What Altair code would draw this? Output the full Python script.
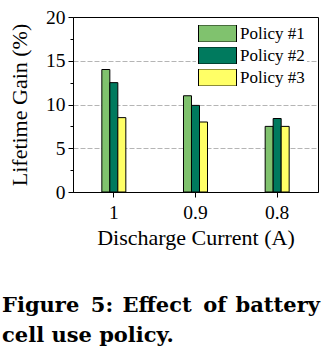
import altair as alt
import pandas as pd

currents = ["1", "0.9", "0.8"]
policies = ["Policy #1", "Policy #2", "Policy #3"]
policy1 = [14.0, 11.0, 7.5]
policy2 = [12.5, 9.9, 8.4]
policy3 = [8.5, 8.0, 7.5]
colors = ["#80C26E", "#007A5E", "#FFFF66"]
y_ticks = [0, 2.5, 5, 7.5, 10, 12.5, 15, 17.5, 20]

rows = []
for series, vals in zip(policies, [policy1, policy2, policy3]):
    for c, v in zip(currents, vals):
        rows.append({"current": c, "policy": series, "gain": v})
df = pd.DataFrame(rows)

serif = "Liberation Serif"

bars = alt.Chart(df).mark_bar(stroke="black", strokeWidth=1).encode(
    x=alt.X("current:N", sort=currents,
            scale=alt.Scale(paddingInner=0.706, paddingOuter=0.353),
            axis=alt.Axis(title="Discharge Current (A)", labelAngle=0, tickSize=5,
                          labelPadding=6, titlePadding=6, grid=False)),
    xOffset=alt.XOffset("policy:N", sort=policies),
    y=alt.Y("gain:Q", scale=alt.Scale(domain=[0, 20], nice=False),
            axis=alt.Axis(title="Lifetime Gain (%)", values=y_ticks,
                          labelExpr="datum.value % 5 === 0 ? datum.label : ''",
                          tickSize={"condition": {"test": "datum.value % 5 === 0", "value": 5}, "value": 3},
                          gridOpacity={"condition": {"test": "datum.value % 5 === 0 && datum.value > 0 && datum.value < 20", "value": 1}, "value": 0},
                          labelPadding=3, titlePadding=14)),
    color=alt.Color("policy:N", sort=policies,
                    scale=alt.Scale(domain=policies, range=colors),
                    legend=alt.Legend(title=None, orient="none", legendX=123, legendY=6,
                                      symbolType="M-1,-0.45H1V0.45H-1Z", symbolSize=1444,
                                      symbolStrokeColor="black", symbolStrokeWidth=1,
                                      symbolOpacity=1, labelOffset=3, clipHeight=17,
                                      labelFont=serif, labelFontSize=17, labelColor="black",
                                      fillColor="white", padding=2, rowPadding=4)),
)

chart = bars.properties(
    width=245, height=175,
    padding={"left": 73, "top": 17, "right": 13, "bottom": 160},
    autosize=alt.AutoSizeParams(type="none"),
    background="white",
    title=alt.TitleParams(
        text=["Figure\u2009 5:\u200a Effect\u2009 of\u200a battery", "cell use policy."],
        orient="bottom", anchor="start", frame="group", dx=-71, offset=46,
        font="DejaVu Serif", fontSize=21, fontWeight="bold", color="black",
        lineHeight=30),
).configure_view(stroke="black", strokeWidth=1).configure_axis(
    labelFont=serif, titleFont=serif, labelFontSize=19.5, titleFontSize=22,
    labelColor="black", titleColor="black", titleFontWeight="normal",
    domainColor="black", tickColor="black", gridColor="#b5b5b5", gridDash=[5, 2],
)

chart.save("out.html", embed_options={"renderer": "svg", "actions": False})
